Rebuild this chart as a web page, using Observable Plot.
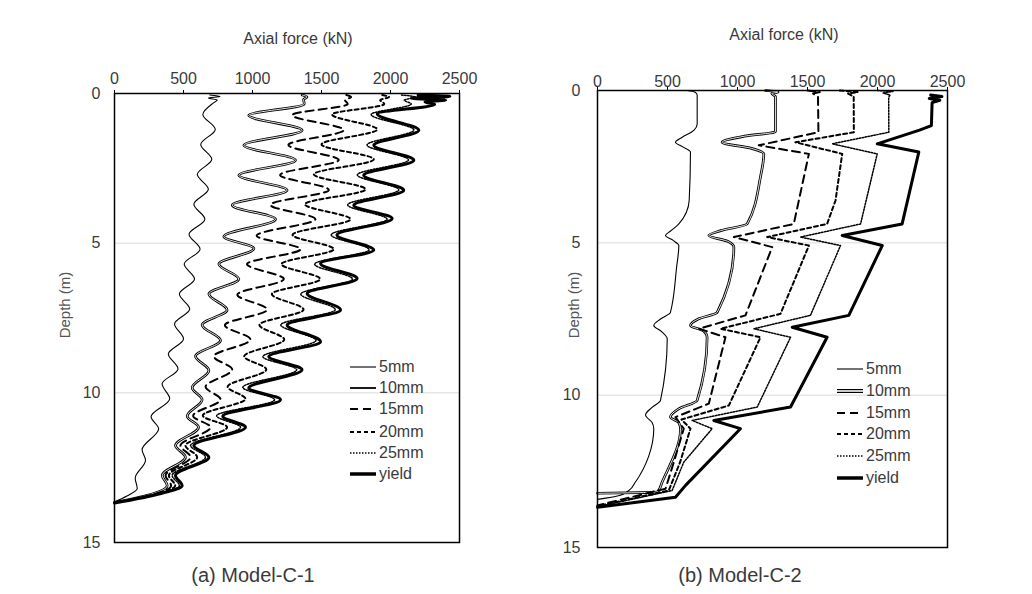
<!DOCTYPE html>
<html><head><meta charset="utf-8">
<script src="https://cdn.jsdelivr.net/npm/d3@7"></script>
<script src="https://cdn.jsdelivr.net/npm/@observablehq/plot@0.6"></script>
<style>
html,body{margin:0;padding:0;background:#fff;}
#root{position:relative;width:1032px;height:594px;overflow:hidden;font-family:"Liberation Sans",Arial,sans-serif;color:#3a3a3a;}
.txt{position:absolute;transform:translate(-50%,-50%);white-space:nowrap;line-height:1;}
.rot{position:absolute;transform:translate(-50%,-50%) rotate(-90deg);white-space:nowrap;line-height:1;font-size:15px;color:#555;}
.panel{position:absolute;top:0;}
.leg{position:absolute;display:flex;align-items:center;font-size:16px;line-height:1;transform:translateY(-50%);color:#3a3a3a;}
.leg svg{margin-right:3px;}
</style></head><body><div id="root"></div>
<script>
// ---------------- data ----------------
const forceTicks = [0, 500, 1000, 1500, 2000, 2500];
const depthTicks = [0, 5, 10, 15];
const seriesLabels = ["5mm", "10mm", "15mm", "20mm", "25mm", "yield"];
const xTitle = "Axial force (kN)";
const yTitle = "Depth (m)";
const panelCaptions = ["(a)  Model-C-1", "(b)  Model-C-2"];

// Model-C-1 : [depth (m), axial force (kN)]
const c1_5mm = [[0.05,690],[0.1,765],[0.15,680],[0.22,745],[0.32,715],[0.7,640],[1.2,730],[1.7,625],[2.2,705],[2.7,600],[3.2,680],[3.7,575],[4.2,655],[4.7,540],[5.2,620],[5.7,505],[6.2,580],[6.7,470],[7.2,545],[7.7,435],[8.2,500],[8.7,390],[9.2,460],[9.7,345],[10.2,400],[10.8,265],[11.2,320],[11.9,200],[12.25,225],[12.85,150],[13.2,165],[13.45,90],[13.65,0]];
const c1_10mm = [[0.05,1360],[0.12,1395],[0.2,1370],[0.35,1375],[0.73,973],[1.23,1360],[1.73,937],[2.23,1312],[2.73,901],[3.23,1251],[3.73,853],[4.2,1167],[4.78,792],[5.18,1010],[5.7,756],[6.2,901],[6.7,684],[7.23,816],[7.73,635],[8.25,768],[8.78,587],[9.25,684],[9.83,563],[10.23,635],[10.78,527],[11.15,609],[11.76,442],[12.15,514],[12.76,346],[13.1,382],[13.37,280],[13.66,0]];
const c1_15mm = [[0.05,1680],[0.12,1715],[0.22,1670],[0.35,1690],[0.72,1288],[1.22,1662],[1.72,1260],[2.22,1625],[2.72,1200],[3.22,1553],[3.72,1130],[4.2,1456],[4.75,1030],[5.2,1348],[5.7,960],[6.2,1227],[6.72,890],[7.22,1106],[7.74,800],[8.22,985],[8.78,720],[9.22,853],[9.8,660],[10.22,768],[10.77,570],[11.15,696],[11.76,478],[12.15,551],[12.76,370],[13.1,410],[13.37,300],[13.67,0]];
const c1_20mm = [[0.05,1940],[0.12,1990],[0.22,1925],[0.35,1955],[0.7,1577],[1.2,1904],[1.7,1500],[2.2,1879],[2.7,1444],[3.2,1819],[3.7,1380],[4.2,1710],[4.72,1290],[5.2,1589],[5.7,1210],[6.2,1490],[6.7,1140],[7.22,1370],[7.73,1050],[8.22,1230],[8.78,940],[9.22,1100],[9.8,820],[10.2,949],[10.76,640],[11.15,816],[11.76,514],[12.15,599],[12.76,394],[13.1,440],[13.37,310],[13.67,0]];
const c1_25mm = [[0.05,2080],[0.12,2180],[0.22,2100],[0.35,2150],[0.7,1860],[1.22,2170],[1.72,1830],[2.22,2130],[2.72,1760],[3.22,2060],[3.72,1690],[4.2,1975],[4.72,1570],[5.22,1845],[5.7,1450],[6.2,1725],[6.7,1350],[7.22,1600],[7.73,1205],[8.25,1460],[8.79,1075],[9.23,1320],[9.82,930],[10.23,1160],[10.77,740],[11.15,913],[11.76,551],[12.15,659],[12.76,418],[13.1,470],[13.37,320],[13.68,0]];
const c1_yield = [[0.05,2200],[0.1,2430],[0.16,2150],[0.22,2400],[0.28,2250],[0.36,2320],[0.68,1904],[1.23,2205],[1.73,1879],[2.23,2169],[2.73,1806],[3.23,2096],[3.73,1734],[4.18,2012],[4.73,1612],[5.23,1879],[5.68,1493],[6.18,1758],[6.68,1396],[7.23,1638],[7.73,1251],[8.29,1493],[8.79,1118],[9.23,1359],[9.84,973],[10.23,1203],[10.78,785],[11.15,949],[11.76,575],[12.15,684],[12.76,442],[13.1,490],[13.37,330],[13.68,0]];

// Model-C-2 : [depth (m), axial force (kN)]
const c2_5mm = [[0,640],[0.05,695],[0.15,712],[1.1,712],[1.3,690],[1.55,600],[1.7,557],[1.85,610],[2.02,664],[3.6,655],[4.38,581],[4.62,520],[4.76,486],[4.92,540],[5.09,581],[5.8,565],[7.28,521],[7.5,450],[7.71,402],[7.92,460],[8.15,498],[10.17,450],[10.4,390],[10.65,343],[10.9,390],[11.1,402],[12.0,366],[12.85,271],[13.13,224],[13.3,150],[13.38,60],[13.42,0]];
const c2_10mm = [[0,1200],[0.05,1290],[0.1,1245],[0.2,1271],[1.35,1271],[1.5,1050],[1.7,890],[1.9,1100],[2.08,1188],[2.84,1164],[4.38,1069],[4.6,880],[4.76,795],[4.95,930],[5.14,974],[7.28,855],[7.5,720],[7.71,664],[7.9,760],[8.1,783],[10.17,712],[10.45,580],[10.72,521],[10.9,580],[11.1,593],[12.85,462],[13.17,430],[13.2,300],[13.22,0]];
const c2_15mm = [[0,1500],[0.05,1590],[0.1,1540],[0.2,1575],[1.37,1578],[1.8,1152],[2.08,1510],[4.38,1402],[4.81,974],[5.14,1248],[7.38,1057],[7.82,724],[8.1,914],[10.28,795],[10.72,557],[11.1,616],[12.2,545],[13.07,486],[13.62,0]];
const c2_20mm = [[0,1730],[0.05,1860],[0.1,1790],[0.2,1830],[1.37,1831],[1.7,1414],[2.08,1748],[3.61,1700],[4.38,1640],[4.81,1212],[5.09,1510],[7.33,1307],[7.82,879],[8.1,1164],[10.34,938],[10.8,600],[11.1,664],[12.2,590],[13.13,509],[13.64,0]];
const c2_25mm = [[0,2000],[0.03,2110],[0.08,2040],[0.15,2090],[0.22,2080],[1.37,2081],[1.75,1676],[2.08,1998],[4.38,1879],[4.81,1450],[5.09,1736],[7.38,1521],[7.82,1117],[8.1,1379],[10.39,1141],[10.83,676],[11.1,819],[12.2,616],[13.13,533],[13.66,0]];
const c2_yield = [[0.15,2380],[0.2,2460],[0.26,2370],[0.32,2445],[0.4,2390],[1.15,2385],[1.3,2300],[1.75,1998],[2.02,2295],[4.38,2176],[4.76,1748],[5.09,2034],[7.38,1795],[7.77,1391],[8.1,1640],[10.39,1379],[10.83,831],[11.1,1021],[12.96,629],[13.35,557],[13.68,0]];

// ---------------- styles ----------------
const lineStyles = {
  "5mm":   {stroke: "#000", strokeWidth: 1.1},
  "10mm":  {stroke: "#000", strokeWidth: 2.7, double: true},
  "15mm":  {stroke: "#000", strokeWidth: 2, strokeDasharray: "8,5"},
  "20mm":  {stroke: "#000", strokeWidth: 2, strokeDasharray: "4,3"},
  "25mm":  {stroke: "#000", strokeWidth: 1.5, strokeDasharray: "1.5,1.5"},
  "yield": {stroke: "#000", strokeWidth: 3}
};

const fmt = d3.format("d");

function seriesMarks(seriesList, curveFor) {
  const marks = [];
  seriesList.forEach((data, i) => {
    const name = seriesLabels[i];
    const st = lineStyles[name];
    const curve = curveFor(name);
    const base = {x: d => d[1], y: d => d[0], curve, strokeLinejoin: "round"};
    if (st.double) {
      marks.push(Plot.line(data, {...base, stroke: "#000", strokeWidth: st.strokeWidth}));
      marks.push(Plot.line(data, {...base, stroke: "#fff", strokeWidth: 0.9}));
    } else {
      marks.push(Plot.line(data, {...base, stroke: st.stroke, strokeWidth: st.strokeWidth, strokeDasharray: st.strokeDasharray}));
    }
  });
  return marks;
}

function makePanel(seriesList, m, tickPadX, tickPadY, curveFor) {
  return Plot.plot({
    width: 516, height: 594,
    marginLeft: m[0], marginRight: m[1], marginTop: m[2], marginBottom: m[3],
    x: {domain: [0, 2500]},
    y: {domain: [0, 15], reverse: true},
    style: {fontSize: "16px", fontFamily: "'Liberation Sans', Arial, sans-serif", color: "#3a3a3a", background: "transparent", overflow: "visible"},
    marks: [
      Plot.ruleY([5, 10], {stroke: "#dadada", strokeWidth: 1}),
      ...seriesMarks(seriesList, curveFor),
      Plot.frame({stroke: "#000", strokeWidth: 1.5}),
      Plot.axisX({anchor: "top", ticks: forceTicks, tickFormat: fmt, tickSize: 4, tickPadding: tickPadX, label: null, stroke: "#000"}),
      Plot.axisY({anchor: "left", ticks: depthTicks, tickFormat: fmt, tickSize: 0, tickPadding: tickPadY, label: null})
    ]
  });
}

const root = document.getElementById("root");

const left = makePanel([c1_5mm, c1_10mm, c1_15mm, c1_20mm, c1_25mm, c1_yield],
  [114, 57, 93, 52], 6, 14, () => "monotone-y");
left.classList.add("panel"); left.style.left = "0px";
root.appendChild(left);

const right = makePanel([c2_5mm, c2_10mm, c2_15mm, c2_20mm, c2_25mm, c2_yield],
  [81, 85, 90, 47], 0, 17, name => (name === "5mm" || name === "10mm") ? "monotone-y" : "linear");
right.classList.add("panel"); right.style.left = "516px";
root.appendChild(right);

function addText(txt, x, y, size, cls) {
  const d = document.createElement("div");
  d.className = cls || "txt";
  d.textContent = txt;
  d.style.left = x + "px"; d.style.top = y + "px";
  if (size) d.style.fontSize = size + "px";
  root.appendChild(d);
}
addText(xTitle, 298, 39, 16);
addText(xTitle, 784, 35, 16);
addText(yTitle, 64, 305, null, "rot");
addText(yTitle, 573, 305, null, "rot");
addText(panelCaptions[0], 253, 575, 20);
addText(panelCaptions[1], 740, 575, 20);

function legendKey(name, doubleStyle) {
  const st = lineStyles[name];
  const ns = "http://www.w3.org/2000/svg";
  const svg = document.createElementNS(ns, "svg");
  svg.setAttribute("width", 26); svg.setAttribute("height", 8);
  const mk = (stroke, w, dash) => {
    const l = document.createElementNS(ns, "line");
    l.setAttribute("x1", 0); l.setAttribute("x2", 26); l.setAttribute("y1", 4); l.setAttribute("y2", 4);
    l.setAttribute("stroke", stroke); l.setAttribute("stroke-width", w);
    if (dash) l.setAttribute("stroke-dasharray", dash);
    svg.appendChild(l);
  };
  if (st.double && doubleStyle) { mk("#000", 4); mk("#fff", 1.6); }
  else if (st.double) { mk("#000", 1.8); }
  else if (name === "yield") { mk("#000", 3.5); }
  else mk(st.stroke, st.strokeWidth, st.strokeDasharray);
  return svg;
}
function addLegend(x, ys, doubleStyle) {
  seriesLabels.forEach((name, i) => {
    const row = document.createElement("div");
    row.className = "leg";
    row.style.left = x + "px"; row.style.top = ys[i] + "px";
    row.appendChild(legendKey(name, doubleStyle));
    const s = document.createElement("span"); s.textContent = name;
    row.appendChild(s);
    root.appendChild(row);
  });
}
addLegend(350, [367, 388, 409, 431.5, 453, 474], false);
addLegend(837, [368.5, 390.5, 412.5, 434, 455.5, 478], true);
</script>
</body></html>
